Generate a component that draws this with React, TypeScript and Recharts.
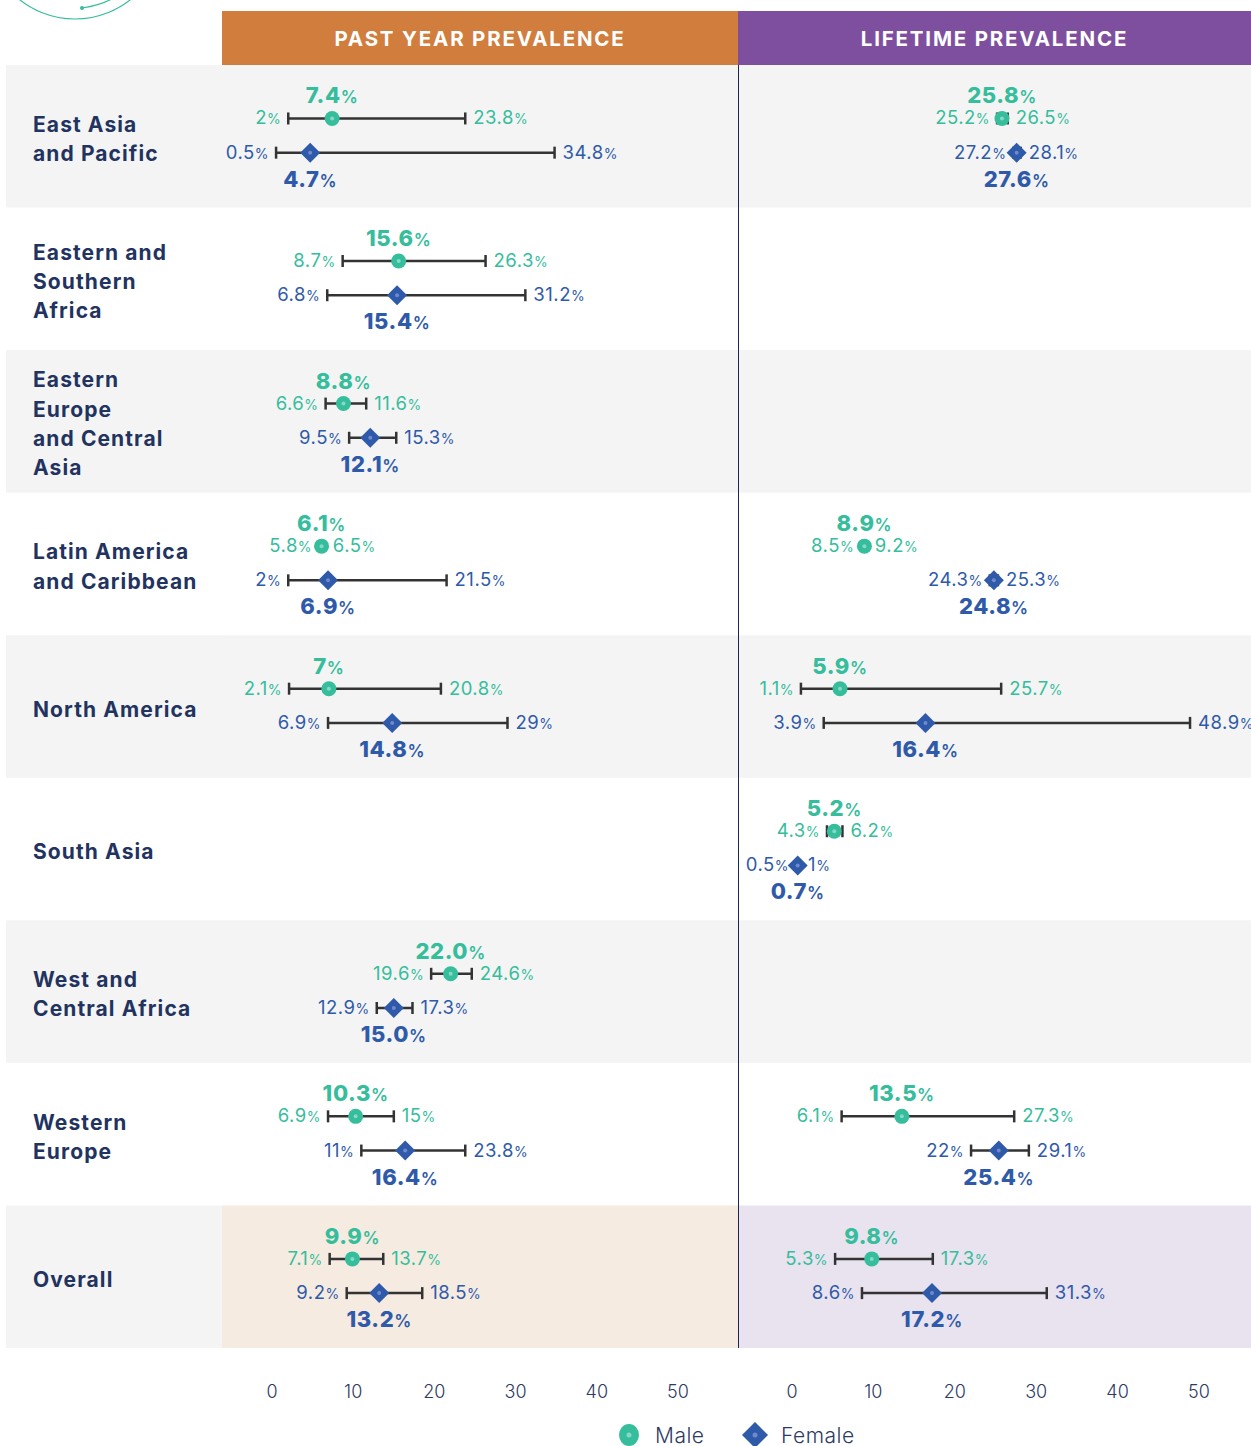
import React from "react";
import {
  ScatterChart,
  Scatter,
  XAxis,
  YAxis,
  ErrorBar,
  ReferenceArea,
  ReferenceLine,
} from "recharts";

// each entry: [lower CI, estimate, upper CI] as printed, null when no data
type CI = [string, string, string] | null;

const regions = [
  "East Asia and Pacific",
  "Eastern and Southern Africa",
  "Eastern Europe and Central Asia",
  "Latin America and Caribbean",
  "North America",
  "South Asia",
  "West and Central Africa",
  "Western Europe",
  "Overall",
];

const regionLines = [
  ["East Asia", "and Pacific"],
  ["Eastern and", "Southern", "Africa"],
  ["Eastern", "Europe", "and Central", "Asia"],
  ["Latin America", "and Caribbean"],
  ["North America"],
  ["South Asia"],
  ["West and", "Central Africa"],
  ["Western", "Europe"],
  ["Overall"],
];

const pastMale: CI[] = [
  ["2", "7.4", "23.8"],
  ["8.7", "15.6", "26.3"],
  ["6.6", "8.8", "11.6"],
  ["5.8", "6.1", "6.5"],
  ["2.1", "7", "20.8"],
  null,
  ["19.6", "22.0", "24.6"],
  ["6.9", "10.3", "15"],
  ["7.1", "9.9", "13.7"],
];

const pastFemale: CI[] = [
  ["0.5", "4.7", "34.8"],
  ["6.8", "15.4", "31.2"],
  ["9.5", "12.1", "15.3"],
  ["2", "6.9", "21.5"],
  ["6.9", "14.8", "29"],
  null,
  ["12.9", "15.0", "17.3"],
  ["11", "16.4", "23.8"],
  ["9.2", "13.2", "18.5"],
];

const lifeMale: CI[] = [
  ["25.2", "25.8", "26.5"],
  null,
  null,
  ["8.5", "8.9", "9.2"],
  ["1.1", "5.9", "25.7"],
  ["4.3", "5.2", "6.2"],
  null,
  ["6.1", "13.5", "27.3"],
  ["5.3", "9.8", "17.3"],
];

const lifeFemale: CI[] = [
  ["27.2", "27.6", "28.1"],
  null,
  null,
  ["24.3", "24.8", "25.3"],
  ["3.9", "16.4", "48.9"],
  ["0.5", "0.7", "1"],
  null,
  ["22", "25.4", "29.1"],
  ["8.6", "17.2", "31.3"],
];

const xTicks = [0, 10, 20, 30, 40, 50];

const FONT = "Inter, 'Noto Sans', sans-serif";
const GREEN = "#36bd9c";
const BLUE = "#2f5aa9";
const NAVY = "#22335f";
const GRAY = "#f4f4f4";
const BAR = "#333333";

const ROWS = regions.length;
const PLOT_H = 1283;
const AXIS_H = 60;
const ROW_H = PLOT_H / ROWS;
const MALE_POS = 0.375;
const FEMALE_POS = 0.615;

const PAST_DOMAIN: [number, number] = [-6.16, 57.39];
const LIFE_DOMAIN: [number, number] = [-6.63, 56.39];

const toPoints = (rows: CI[], pos: number) =>
  rows.flatMap((r, i) => {
    if (!r) return [];
    const lo = parseFloat(r[0]);
    const mid = parseFloat(r[1]);
    const hi = parseFloat(r[2]);
    return [
      {
        x: mid,
        y: i + pos,
        lo,
        hi,
        lowLabel: r[0],
        midLabel: r[1],
        highLabel: r[2],
        err: [mid - lo, hi - mid],
      },
    ];
  });

const lowEnds = (pts: ReturnType<typeof toPoints>) =>
  pts.map((p) => ({ x: p.lo, y: p.y, label: p.lowLabel }));
const highEnds = (pts: ReturnType<typeof toPoints>) =>
  pts.map((p) => ({ x: p.hi, y: p.y, label: p.highLabel }));

const MaleDot = (props: any) => {
  const { cx, cy, payload } = props;
  return (
    <g>
      <circle cx={cx} cy={cy} r={7.5} fill={GREEN} />
      <circle cx={cx} cy={cy} r={2} fill="#86d9c4" />
      <text x={cx} y={cy - 15} textAnchor="middle" fill={GREEN} fontFamily={FONT} letterSpacing={0.6}>
        <tspan fontSize={22} fontWeight={800}>{payload.midLabel}</tspan>
        <tspan fontSize={17} fontWeight={600}>%</tspan>
      </text>
    </g>
  );
};

const FemaleDot = (props: any) => {
  const { cx, cy, payload } = props;
  const h = 10;
  return (
    <g>
      <polygon
        points={`${cx},${cy - h} ${cx + h},${cy} ${cx},${cy + h} ${cx - h},${cy}`}
        fill={BLUE}
      />
      <circle cx={cx} cy={cy} r={2} fill="#7089cc" />
      <text x={cx} y={cy + 34} textAnchor="middle" fill={BLUE} fontFamily={FONT} letterSpacing={0.6}>
        <tspan fontSize={22} fontWeight={800}>{payload.midLabel}</tspan>
        <tspan fontSize={17} fontWeight={600}>%</tspan>
      </text>
    </g>
  );
};

const endLabel = (color: string, side: "lo" | "hi") => (props: any) => {
  const { cx, cy, payload } = props;
  return (
    <text
      x={side === "lo" ? cx - 7 : cx + 8}
      y={cy + 6}
      textAnchor={side === "lo" ? "end" : "start"}
      fill={color}
      fontFamily={FONT}
      letterSpacing={0.5}
    >
      <tspan fontSize={18.5} fontWeight={400}>{payload.label}</tspan>
      <tspan fontSize={14} fontWeight={400}>%</tspan>
    </text>
  );
};

const RegionTick = (props: any) => {
  const { y, payload } = props;
  const i = Math.floor(payload.value);
  const lines = regionLines[i] || [];
  const lineH = 29.3;
  const first = y - ((lines.length - 1) * lineH) / 2 + 10;
  return (
    <g>
      {i % 2 === 0 && (
        <rect x={6} y={y - ROW_H / 2} width={216} height={ROW_H} fill={GRAY} />
      )}
      <text x={33} fill={NAVY} fontFamily={FONT} fontSize={21} fontWeight={700} letterSpacing={1.1}>
        {lines.map((l, k) => (
          <tspan key={k} x={33} y={first + k * lineH}>
            {l}
          </tspan>
        ))}
      </text>
    </g>
  );
};

const ValueTick = (props: any) => {
  const { x, y, payload } = props;
  return (
    <text x={x} y={y + 42} textAnchor="middle" fill="#2d3a63" fontFamily={FONT} fontSize={18} fontWeight={300}>
      {payload.value}
    </text>
  );
};

const rowTicks = regions.map((_, i) => i + 0.5);

function Panel({
  male,
  female,
  domain,
  width,
  withLabels,
  overallFill,
}: {
  male: CI[];
  female: CI[];
  domain: [number, number];
  width: number;
  withLabels: boolean;
  overallFill: string;
}) {
  const m = toPoints(male, MALE_POS);
  const f = toPoints(female, FEMALE_POS);
  return (
    <ScatterChart
      width={width}
      height={PLOT_H + AXIS_H}
      margin={{ top: 0, right: 0, bottom: 0, left: 0 }}
    >
      {regions.map((_, i) =>
        i % 2 === 0 ? (
          <ReferenceArea
            key={i}
            y1={i}
            y2={i + 1}
            fill={i === ROWS - 1 ? overallFill : GRAY}
            fillOpacity={1}
            stroke="none"
          />
        ) : null
      )}
      <XAxis
        type="number"
        dataKey="x"
        domain={domain}
        ticks={xTicks}
        allowDataOverflow
        height={AXIS_H}
        axisLine={false}
        tickLine={false}
        tick={ValueTick}
        interval={0}
      />
      <YAxis
        type="number"
        dataKey="y"
        domain={[0, ROWS]}
        reversed
        ticks={rowTicks}
        interval={0}
        width={withLabels ? 222 : 0}
        hide={!withLabels}
        axisLine={false}
        tickLine={false}
        tick={RegionTick}
      />
      {!withLabels && (
        <ReferenceLine x={domain[0]} stroke="#1c2452" strokeWidth={2} />
      )}
      <Scatter data={lowEnds(m)} shape={endLabel(GREEN, "lo")} isAnimationActive={false} />
      <Scatter data={highEnds(m)} shape={endLabel(GREEN, "hi")} isAnimationActive={false} />
      <Scatter data={lowEnds(f)} shape={endLabel(BLUE, "lo")} isAnimationActive={false} />
      <Scatter data={highEnds(f)} shape={endLabel(BLUE, "hi")} isAnimationActive={false} />
      <Scatter name="Male" data={m} shape={MaleDot} isAnimationActive={false}>
        <ErrorBar dataKey="err" direction="x" width={6} stroke={BAR} strokeWidth={2.5} />
      </Scatter>
      <Scatter name="Female" data={f} shape={FemaleDot} isAnimationActive={false}>
        <ErrorBar dataKey="err" direction="x" width={6} stroke={BAR} strokeWidth={2.5} />
      </Scatter>
    </ScatterChart>
  );
}

const headerStyle: React.CSSProperties = {
  position: "absolute",
  top: 11,
  height: 54,
  display: "flex",
  alignItems: "center",
  justifyContent: "center",
  color: "#ffffff",
  fontFamily: FONT,
  fontWeight: 700,
  fontSize: 20.5,
  letterSpacing: 1.8,
};

export default function App() {
  return (
    <div
      style={{
        position: "absolute",
        left: 0,
        top: 0,
        width: 1251,
        height: 1446,
        background: "#ffffff",
        overflow: "hidden",
        fontFamily: FONT,
      }}
    >
      <svg width={160} height={24} style={{ position: "absolute", left: 0, top: 0 }}>
        <circle cx={75} cy={-70} r={89} fill="none" stroke={GREEN} strokeWidth={1.2} />
        <path d="M82 8 Q110 4 124 -10" fill="none" stroke={GREEN} strokeWidth={1.2} />
        <circle cx={82} cy={8} r={2} fill={GREEN} />
      </svg>
      <div style={{ ...headerStyle, left: 222, width: 516, background: "#d17d3e" }}>
        PAST YEAR PREVALENCE
      </div>
      <div style={{ ...headerStyle, left: 738, width: 513, background: "#7e4f9f" }}>
        LIFETIME PREVALENCE
      </div>
      <div style={{ position: "absolute", left: 0, top: 65 }}>
        <Panel
          male={pastMale}
          female={pastFemale}
          domain={PAST_DOMAIN}
          width={738}
          withLabels
          overallFill="#f6ebe1"
        />
      </div>
      <div style={{ position: "absolute", left: 738, top: 65 }}>
        <Panel
          male={lifeMale}
          female={lifeFemale}
          domain={LIFE_DOMAIN}
          width={513}
          withLabels={false}
          overallFill="#e9e2ef"
        />
      </div>
      <div
        style={{
          position: "absolute",
          left: 617,
          top: 1420,
          display: "flex",
          alignItems: "center",
          fontSize: 21,
          fontWeight: 300,
          color: "#2d3a63",
          letterSpacing: 0.5,
        }}
      >
        <svg width={24} height={30}>
          <ellipse cx={12} cy={15} rx={10} ry={11} fill={GREEN} />
          <circle cx={12} cy={15} r={2.5} fill="#86d9c4" />
        </svg>
        <span style={{ marginLeft: 14, width: 86 }}>Male</span>
        <svg width={28} height={30}>
          <polygon points="14,2 27,15 14,28 1,15" fill={BLUE} />
          <circle cx={14} cy={15} r={2.5} fill="#7089cc" />
        </svg>
        <span style={{ marginLeft: 12 }}>Female</span>
      </div>
    </div>
  );
}
